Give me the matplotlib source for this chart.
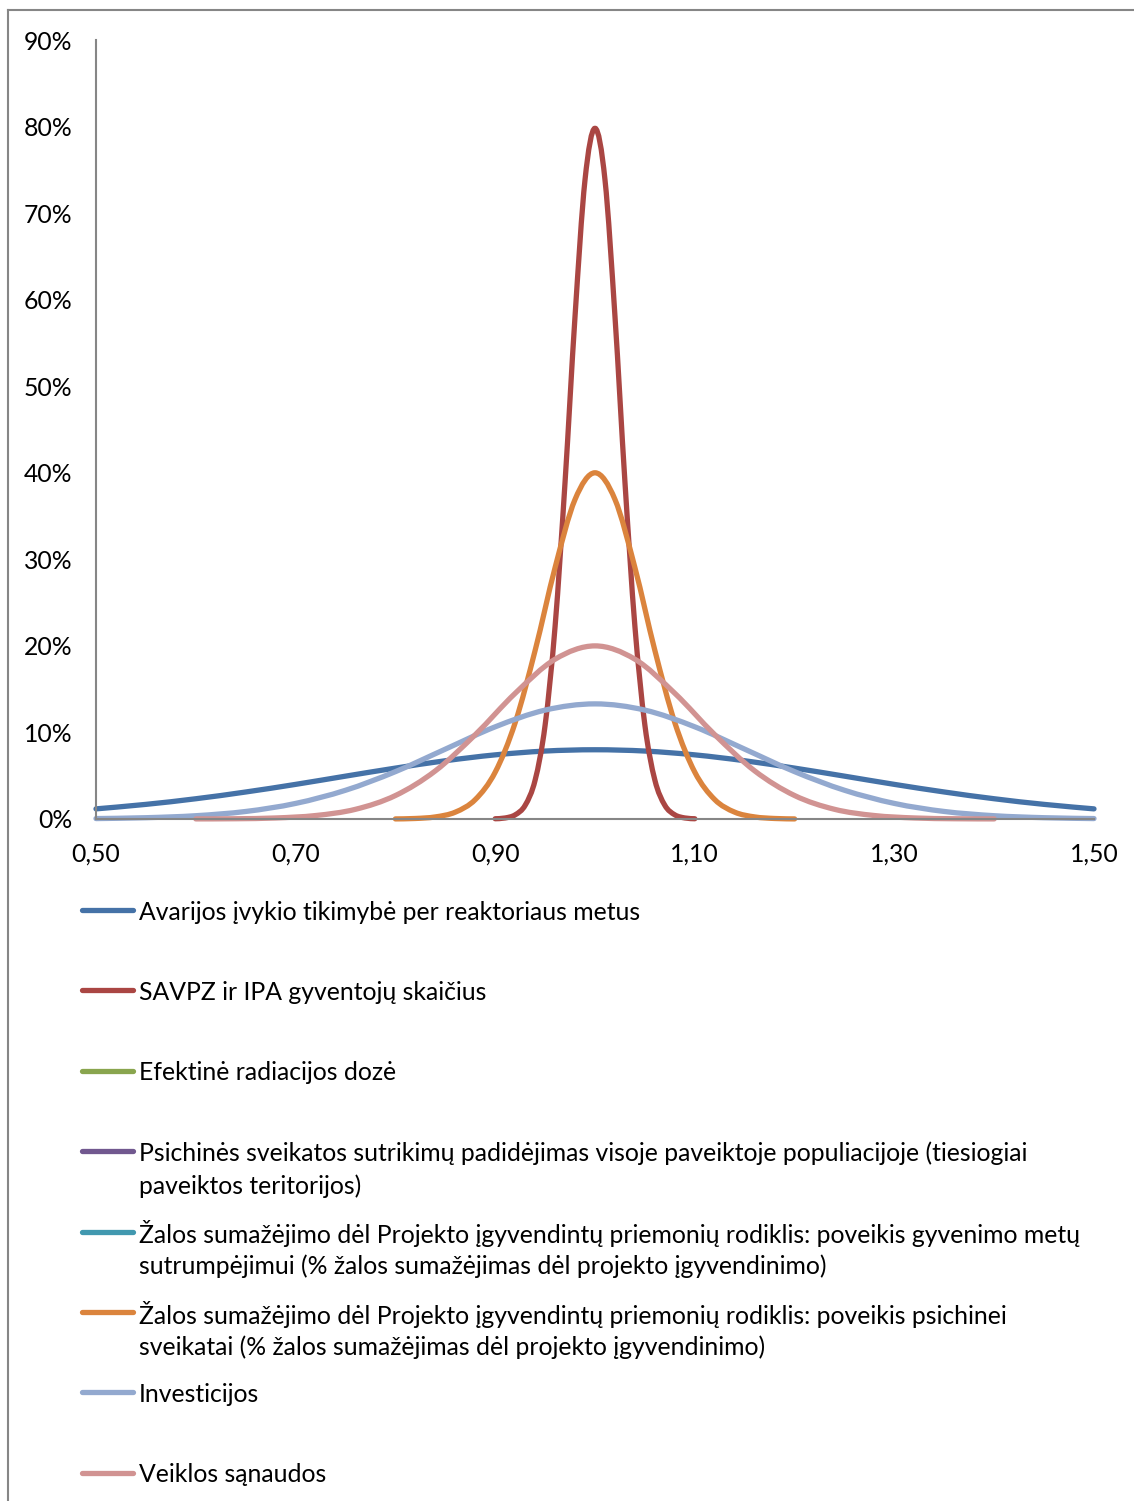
import numpy as np
import matplotlib
matplotlib.use("Agg")
import matplotlib.pyplot as plt
from matplotlib.path import Path
from matplotlib.patches import PathPatch
from matplotlib.lines import Line2D

plt.rcParams['font.family'] = ['Lato', 'DejaVu Sans']

# ---- Series (x = factor, y = probability in %) ----
x_avarijos = [0.50, 0.55, 0.60, 0.65, 0.70, 0.75, 0.80, 0.85, 0.90, 0.95, 1.00,
              1.05, 1.10, 1.15, 1.20, 1.25, 1.30, 1.35, 1.40, 1.45, 1.50]
y_avarijos = [1.17, 1.69, 2.34, 3.12, 4.00, 4.95, 5.88, 6.73, 7.41, 7.85, 8.00,
              7.85, 7.41, 6.73, 5.88, 4.95, 4.00, 3.12, 2.34, 1.69, 1.17]

x_savpz = [0.90, 0.91, 0.92, 0.93, 0.94, 0.95, 0.96, 0.97, 0.98, 0.99, 1.00,
           1.01, 1.02, 1.03, 1.04, 1.05, 1.06, 1.07, 1.08, 1.09, 1.10]
y_savpz = [0.03, 0.12, 0.48, 1.58, 4.49, 10.83, 22.24, 38.94, 58.09, 73.85, 79.80,
           73.85, 58.09, 38.94, 22.24, 10.83, 4.49, 1.58, 0.48, 0.12, 0.03]

x_doze, y_doze = [], []
x_psich, y_psich = [], []
x_gyv, y_gyv = [], []

x_psich_sv = [0.80, 0.82, 0.84, 0.86, 0.88, 0.90, 0.92, 0.94, 0.96, 0.98, 1.00,
              1.02, 1.04, 1.06, 1.08, 1.10, 1.12, 1.14, 1.16, 1.18, 1.20]
y_psich_sv = [0.01, 0.06, 0.24, 0.79, 2.24, 5.41, 11.12, 19.47, 29.04, 36.92, 40.00,
              36.92, 29.04, 19.47, 11.12, 5.41, 2.24, 0.79, 0.24, 0.06, 0.01]

x_invest = [0.50, 0.55, 0.60, 0.65, 0.70, 0.75, 0.80, 0.85, 0.90, 0.95, 1.00,
            1.05, 1.10, 1.15, 1.20, 1.25, 1.30, 1.35, 1.40, 1.45, 1.50]
y_invest = [0.05, 0.15, 0.38, 0.87, 1.80, 3.32, 5.47, 8.07, 10.65, 12.58, 13.30,
            12.58, 10.65, 8.07, 5.47, 3.32, 1.80, 0.87, 0.38, 0.15, 0.05]

x_veikl = [0.60, 0.64, 0.68, 0.72, 0.76, 0.80, 0.84, 0.88, 0.92, 0.96, 1.00,
           1.04, 1.08, 1.12, 1.16, 1.20, 1.24, 1.28, 1.32, 1.36, 1.40]
y_veikl = [0.01, 0.03, 0.12, 0.40, 1.12, 2.71, 5.56, 9.74, 14.52, 18.46, 20.00,
           18.46, 14.52, 9.74, 5.56, 2.71, 1.12, 0.40, 0.12, 0.03, 0.01]

labels = [
    "Avarijos įvykio tikimybė per reaktoriaus metus",
    "SAVPZ ir IPA gyventojų skaičius",
    "Efektinė radiacijos dozė",
    "Psichinės sveikatos sutrikimų padidėjimas visoje paveiktoje populiacijoje (tiesiogiai\npaveiktos teritorijos)",
    "Žalos sumažėjimo dėl Projekto įgyvendintų priemonių rodiklis: poveikis gyvenimo metų\nsutrumpėjimui (% žalos sumažėjimas dėl projekto įgyvendinimo)",
    "Žalos sumažėjimo dėl Projekto įgyvendintų priemonių rodiklis: poveikis psichinei\nsveikatai (% žalos sumažėjimas dėl projekto įgyvendinimo)",
    "Investicijos",
    "Veiklos sąnaudos",
]
colors = ["#4572A7", "#AA4643", "#89A54E", "#71588F",
          "#4198AF", "#DB843D", "#93A9CF", "#D19392"]
series = [(x_avarijos, y_avarijos), (x_savpz, y_savpz), (x_doze, y_doze),
          (x_psich, y_psich), (x_gyv, y_gyv), (x_psich_sv, y_psich_sv),
          (x_invest, y_invest), (x_veikl, y_veikl)]


def smooth_path(xs, ys):
    # smoothed line through the points (cubic Bezier segments)
    pts = np.column_stack([xs, ys])
    pad = np.vstack([pts[0], pts, pts[-1]])
    verts = [pts[0]]
    codes = [Path.MOVETO]
    for i in range(len(pts) - 1):
        p0, p1, p2, p3 = pad[i], pad[i + 1], pad[i + 2], pad[i + 3]
        verts += [p1 + (p2 - p0) / 6, p2 - (p3 - p1) / 6, p2]
        codes += [Path.CURVE4] * 3
    return Path(verts, codes)


W, H = 1134, 1501
FS = 17.8
fig = plt.figure(figsize=(W / 100, H / 100), dpi=100)

# outer chart frame
fig.add_artist(Line2D([8 / W, 8 / W], [1 - 10 / H, 0], transform=fig.transFigure,
                      color="#868686", lw=1.5))
fig.add_artist(Line2D([8 / W, 1], [1 - 10 / H, 1 - 10 / H], transform=fig.transFigure,
                      color="#868686", lw=1.5))

ax = fig.add_axes([96 / W, (H - 819) / H, (1094 - 96) / W, (819 - 40) / H])
ax.set_xlim(0.5, 1.5)
ax.set_ylim(0, 0.9)

lw = 3.8
for (xs, ys), c in zip(series, colors):
    if len(xs) == 0:
        continue
    yv = np.array(ys) / 100.0
    patch = PathPatch(smooth_path(xs, yv), fill=False, edgecolor=c, lw=lw,
                      capstyle="round", joinstyle="round", clip_on=False)
    ax.add_patch(patch)

xticks = [0.5, 0.7, 0.9, 1.1, 1.3, 1.5]
ax.set_xticks(xticks)
ax.set_xticklabels([f"{v:.2f}".replace(".", ",") for v in xticks])
yticks = np.arange(0, 10) / 10
ax.set_yticks(yticks)
ax.set_yticklabels([f"{int(round(v * 100))}%" for v in yticks])
ax.tick_params(length=0, labelsize=FS, colors="black")
ax.tick_params(axis="x", pad=17)
ax.tick_params(axis="y", pad=17)

for s in ["top", "right"]:
    ax.spines[s].set_visible(False)
for s in ["left", "bottom"]:
    ax.spines[s].set_color("#868686")
    ax.spines[s].set_linewidth(1.5)

# legend below the plot, one slot per series
y0, step, line_gap = 910, 80.4, 33
for i, (lab, c) in enumerate(zip(labels, colors)):
    yp = y0 + i * step
    fig.add_artist(Line2D([82 / W, 133 / W], [1 - yp / H, 1 - yp / H],
                          transform=fig.transFigure, color=c, lw=lw,
                          solid_capstyle="round"))
    for j, line in enumerate(lab.split("\n")):
        fig.text(139 / W, 1 - (yp + j * line_gap) / H, line, fontsize=FS,
                 va="center_baseline", ha="left")

fig.savefig("out.png", dpi=100)
